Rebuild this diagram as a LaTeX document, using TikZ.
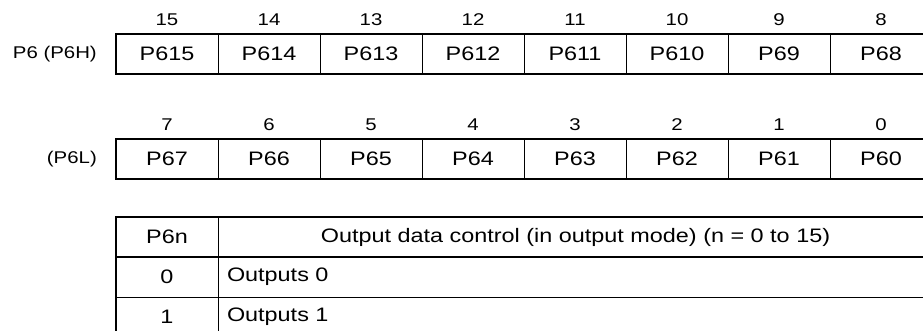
\documentclass[tikz,border=0pt]{standalone}
\usepackage{fontspec}
\setmainfont{Liberation Sans}[FakeStretch=1.2]
\usepackage{tikz}
\usetikzlibrary{positioning}
\tikzset{
  cellbox/.style={draw, line width=0.8pt, minimum width=102pt, minimum height=40pt,
    inner sep=0pt, outer sep=0pt, font=\fontsize{19.5}{21}\selectfont},
  bitnum/.style={inner sep=0pt, font=\fontsize{17}{19}\selectfont},
  reglabel/.style={inner sep=0pt, font=\fontsize{17}{19}\selectfont},
  textcell/.style={cellbox, minimum width=715pt},
  leftcell/.style={cellbox, text width=697pt, inner xsep=9pt, align=left},
  outerline/.style={line width=2pt}
}

\begin{document}
\begin{tikzpicture}[x=1pt, y=-1pt]
        \useasboundingbox (0,0) rectangle (923,330);
        \clip (0,0) rectangle (923,330);
        % Register cells with bit numbers
        \foreach \i in {0,...,7}{
          \pgfmathtruncatemacro{\hb}{15-\i}
          \pgfmathtruncatemacro{\lb}{7-\i}
          \node[cellbox] (h\i) at (167+102*\i, 54) {P6\hb};
          \node[bitnum] (hn\i) at (167+102*\i, 20) {\hb};
          \node[cellbox] (l\i) at (167+102*\i, 159) {P6\lb};
          \node[bitnum] (ln\i) at (167+102*\i, 125) {\lb};
        }
        \draw[outerline] (h0.north west) rectangle (h7.south east);
        \draw[outerline] (l0.north west) rectangle (l7.south east);
        % Register names
        \node[reglabel, left=19pt of h0] (hname) {P6 (P6H)};
        \node[reglabel, left=19pt of l0] (lname) {(P6L)};
        % Table of P6n
        \node[cellbox] (k0) at (167, 237) {P6n};
        \node[textcell, right=0pt of k0] (d0) {Output data control (in output mode) (n = 0 to 15)};
        \node[cellbox] (k1) at (167, 277) {0};
        \node[leftcell, right=0pt of k1] (d1) {Outputs 0};
        \node[cellbox] (k2) at (167, 317) {1};
        \node[leftcell, right=0pt of k2] (d2) {Outputs 1};
        \draw[outerline] (k0.north west) rectangle (d2.south east);
        \draw[outerline] (k0.south west) -- (d0.south east);
      \end{tikzpicture}
\end{document}
